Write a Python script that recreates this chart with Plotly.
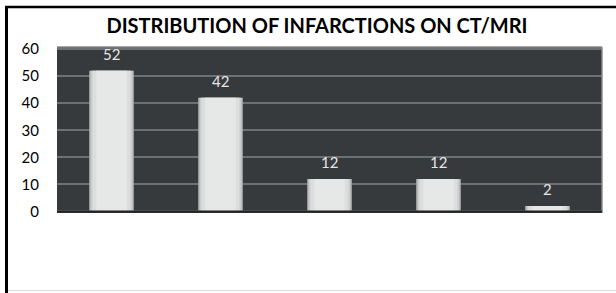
import plotly.graph_objects as go

categories = ["A", "B", "C", "D", "E"]
values = [52, 42, 12, 12, 2]
tick_vals = [0, 10, 20, 30, 40, 50, 60]
title_text = "DISTRIBUTION OF INFARCTIONS ON CT/MRI"

W, H = 616, 293
L, R, T, B = 57, 14, 47, 80
FONT = "Lato, Open Sans, sans-serif"

fig = go.Figure()
# layered bars to imitate the shaded look
layers = [(0.41, "#a9abac"), (0.385, "#cbcccd"), (0.35, "#dcdddd"), (0.28, "#e6e7e7")]
for w, c in layers:
    fig.add_trace(go.Bar(x=categories, y=values, width=w, marker=dict(color=c, line=dict(width=0)),
                         hoverinfo="skip", showlegend=False))

for cat, v in zip(categories, values):
    fig.add_annotation(x=cat, y=v, text=str(v), showarrow=False, yanchor="middle", yshift=17,
                       font=dict(family=FONT, size=15, color="#e6e6e6"))

pw = W - L - R
ph = H - T - B
def px(x):
    return (x - L) / pw
def py(y):
    return (H - B - y) / ph

shapes = [
    dict(type="line", xref="paper", yref="paper", x0=px(6.5), x1=px(6.5), y0=py(6), y1=py(293), line=dict(color="#000000", width=3)),
    dict(type="line", xref="paper", yref="paper", x0=px(5), x1=px(616), y0=py(7), y1=py(7), line=dict(color="#000000", width=2.5)),
    dict(type="line", xref="paper", yref="paper", x0=px(8), x1=px(616), y0=py(290.5), y1=py(290.5), line=dict(color="#d9d9d9", width=1)),
    dict(type="line", xref="paper", yref="paper", x0=0, x1=1, y0=1, y1=1, line=dict(color="#8a8d8f", width=1.5), layer="above"),
    dict(type="line", xref="paper", yref="paper", x0=1, x1=1, y0=0, y1=1, line=dict(color="#8a8d8f", width=1.5), layer="above"),
    dict(type="line", xref="paper", yref="y", x0=0, x1=1, y0=0, y1=0, line=dict(color="#222222", width=2), layer="above"),
]

fig.update_layout(
    width=W, height=H,
    margin=dict(l=L, r=R, t=T, b=B, autoexpand=False),
    paper_bgcolor="#ffffff",
    plot_bgcolor="#363a3d",
    barmode="overlay",
    title=dict(text="<b>" + title_text + "</b>", x=(317) / W, xanchor="center", y=1 - 26 / H, yanchor="middle",
               automargin=False,
               font=dict(family=FONT, size=20, color="#000000")),
    xaxis=dict(showticklabels=False, showgrid=False, zeroline=False, showline=False, ticks="", automargin=False),
    yaxis=dict(range=[-0.6, 60.8], tickvals=tick_vals, showgrid=True, gridcolor="#6d7073", gridwidth=1.5,
               zeroline=False, showline=False, ticks="", ticklabelstandoff=17, automargin=False,
               tickfont=dict(family=FONT, size=15, color="#000000")),
    shapes=shapes,
    showlegend=False,
)

fig.write_html("out.html", config={"displayModeBar": False},
               post_script="document.body.style.margin='0';document.body.style.overflow='hidden';")
